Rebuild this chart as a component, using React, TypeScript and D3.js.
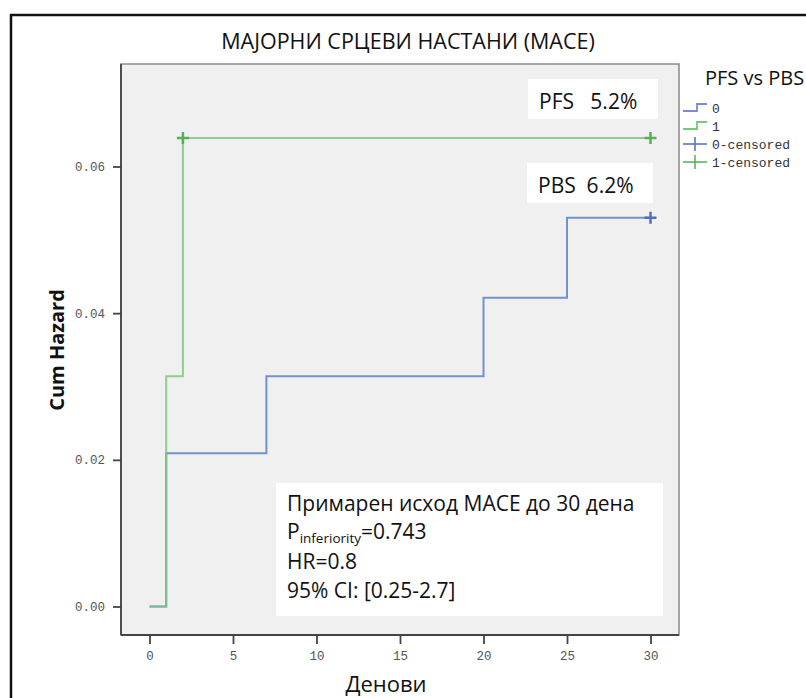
import React, { useEffect, useRef } from 'react';
import * as d3 from 'd3';

// PBS (group 0) and PFS (group 1) cumulative hazard steps
const days0 = [0, 1, 7, 20, 25, 30];
const hazard0 = [0, 0.0209, 0.0314, 0.0421, 0.053, 0.053];
const days1 = [0, 1, 2, 30];
const hazard1 = [0, 0.0314, 0.0639, 0.0639];
const censored0 = [{ t: 30, h: 0.053 }];
const censored1 = [{ t: 2, h: 0.0639 }, { t: 30, h: 0.0639 }];

const xTicks = [0, 5, 10, 15, 20, 25, 30];
const yTicks = [0, 0.02, 0.04, 0.06];
const legendLabels = ['0', '1', '0-censored', '1-censored'];
const noteLines = ['Примарен исход МАСЕ до 30 дена', 'HR=0.8', '95% CI: [0.25-2.7]'];

const BLUE = '#7590cf';
const GREEN = '#7cc77f';
const BLUE_DARK = '#4f6fc0';
const GREEN_DARK = '#52b256';
const FONT = '"Open Sans", sans-serif';
const MONO = '"Liberation Mono", monospace';

const App = () => {
  const svgRef = useRef(null);

  useEffect(() => {
    const width = 806;
    const height = 698;
    const plot = { left: 121, top: 64, right: 679, bottom: 635 };

    const svg = d3.select(svgRef.current)
      .attr('width', width)
      .attr('height', height);
    svg.selectAll('*').remove();

    const xScale = d3.scaleLinear().domain([0, 30]).range([149.5, 650.5]);
    const yScale = d3.scaleLinear().domain([0, 0.06]).range([606.5, 166.5]);

    // outer frame
    svg.append('rect')
      .attr('x', 11).attr('y', 15)
      .attr('width', 830).attr('height', 720)
      .attr('fill', 'white')
      .attr('stroke', '#111')
      .attr('stroke-width', 2.5);

    svg.append('text')
      .attr('x', 408).attr('y', 49)
      .attr('text-anchor', 'middle')
      .style('font-family', FONT)
      .style('font-size', '21.5px')
      .attr('fill', '#111')
      .text('МАЈОРНИ СРЦЕВИ НАСТАНИ (МАСЕ)');

    // plot background
    svg.append('rect')
      .attr('x', plot.left).attr('y', plot.top)
      .attr('width', plot.right - plot.left)
      .attr('height', plot.bottom - plot.top)
      .attr('fill', '#f0f0f0')
      .attr('stroke', '#8a8a8a')
      .attr('stroke-width', 1.5);

    // axes
    const xAxis = svg.append('g')
      .attr('transform', `translate(0,${plot.bottom})`)
      .call(d3.axisBottom(xScale).tickValues(xTicks).tickSize(9).tickPadding(7).tickSizeOuter(0));
    xAxis.select('.domain').attr('d', `M${plot.left},0H${plot.right}`).attr('stroke', '#444').attr('stroke-width', 1.8);

    const yAxis = svg.append('g')
      .attr('transform', `translate(${plot.left},0)`)
      .call(d3.axisLeft(yScale).tickValues(yTicks).tickFormat(d3.format('.2f')).tickSize(8).tickPadding(8).tickSizeOuter(0));
    yAxis.select('.domain').attr('d', `M0,${plot.top}V${plot.bottom}`).attr('stroke', '#444').attr('stroke-width', 1.8);

    [xAxis, yAxis].forEach(a => {
      a.selectAll('.tick line').attr('stroke', '#444').attr('stroke-width', 1.8);
      a.selectAll('.tick text')
        .attr('fill', '#555')
        .style('font-family', MONO)
        .style('font-size', '12.5px');
    });

    svg.append('text')
      .attr('transform', 'translate(64,350) rotate(-90)')
      .attr('text-anchor', 'middle')
      .style('font-family', FONT)
      .style('font-weight', 'bold')
      .style('font-size', '20px')
      .attr('fill', '#111')
      .text('Cum Hazard');

    svg.append('text')
      .attr('x', 386).attr('y', 692)
      .attr('text-anchor', 'middle')
      .style('font-family', FONT)
      .style('font-size', '22px')
      .attr('fill', '#111')
      .text('Денови');

    // step curves
    const line = d3.line()
      .x(d => xScale(d[0]))
      .y(d => yScale(d[1]))
      .curve(d3.curveStepAfter);

    svg.append('path')
      .datum(days0.map((t, i) => [t, hazard0[i]]))
      .attr('d', line)
      .attr('fill', 'none')
      .attr('stroke', BLUE)
      .attr('stroke-width', 2);

    svg.append('path')
      .datum(days1.map((t, i) => [t, hazard1[i]]))
      .attr('d', line)
      .attr('fill', 'none')
      .attr('stroke', GREEN)
      .attr('stroke-width', 2)
      .attr('opacity', 0.85);

    const cross = (data, color) => {
      data.forEach(d => {
        const cx = xScale(d.t);
        const cy = yScale(d.h);
        svg.append('path')
          .attr('d', `M${cx - 6},${cy}H${cx + 6}M${cx},${cy - 6}V${cy + 6}`)
          .attr('stroke', color)
          .attr('stroke-width', 2.5)
          .attr('fill', 'none');
      });
    };
    cross(censored0, BLUE_DARK);
    cross(censored1, GREEN_DARK);

    // PFS / PBS labels
    const tag = (x, y, w, h, label) => {
      svg.append('rect').attr('x', x).attr('y', y).attr('width', w).attr('height', h).attr('fill', 'white');
      svg.append('text')
        .attr('x', x + 11).attr('y', y + h - 10)
        .style('font-family', FONT)
        .style('font-size', '21px')
        .style('white-space', 'pre')
        .attr('fill', '#111')
        .text(label);
    };
    tag(528, 79, 130, 40, 'PFS   5.2%');
    tag(527, 163, 126, 40, 'PBS  6.2%');

    // annotation box
    svg.append('rect')
      .attr('x', 276).attr('y', 483)
      .attr('width', 387).attr('height', 133)
      .attr('fill', 'white');
    const note = svg.append('g')
      .style('font-family', FONT)
      .style('font-size', '21px')
      .attr('fill', '#111');
    note.append('text').attr('x', 287).attr('y', 511).text(noteLines[0]);
    const p = note.append('text').attr('x', 287).attr('y', 539);
    p.append('tspan').text('P');
    p.append('tspan').attr('dy', 4).style('font-size', '13.5px').text('inferiority');
    p.append('tspan').attr('dy', -4).text('=0.743');
    note.append('text').attr('x', 287).attr('y', 569).text(noteLines[1]);
    note.append('text').attr('x', 287).attr('y', 598).text(noteLines[2]);

    // legend
    svg.append('text')
      .attr('x', 705).attr('y', 85)
      .style('font-family', FONT)
      .style('font-size', '20px')
      .attr('fill', '#111')
      .text('PFS vs PBS');

    const colors = [BLUE, GREEN, BLUE_DARK, GREEN_DARK];
    legendLabels.forEach((lab, i) => {
      const cy = 108 + i * 18;
      const g = svg.append('g');
      if (i < 2) {
        g.append('path')
          .attr('d', `M683,${cy + 3}H697V${cy - 4}H707`)
          .attr('stroke', colors[i]).attr('stroke-width', 1.8).attr('fill', 'none');
      } else {
        g.append('path')
          .attr('d', `M683,${cy}H707M695,${cy - 7}V${cy + 7}`)
          .attr('stroke', colors[i]).attr('stroke-width', 1.5).attr('fill', 'none');
      }
      g.append('text')
        .attr('x', 712).attr('y', cy + 5)
        .style('font-family', MONO)
        .style('font-size', '13px')
        .attr('fill', '#333')
        .text(lab);
    });
  }, []);

  return <svg ref={svgRef} style={{ position: 'absolute', left: 0, top: 0 }}></svg>;
};

export default App;
